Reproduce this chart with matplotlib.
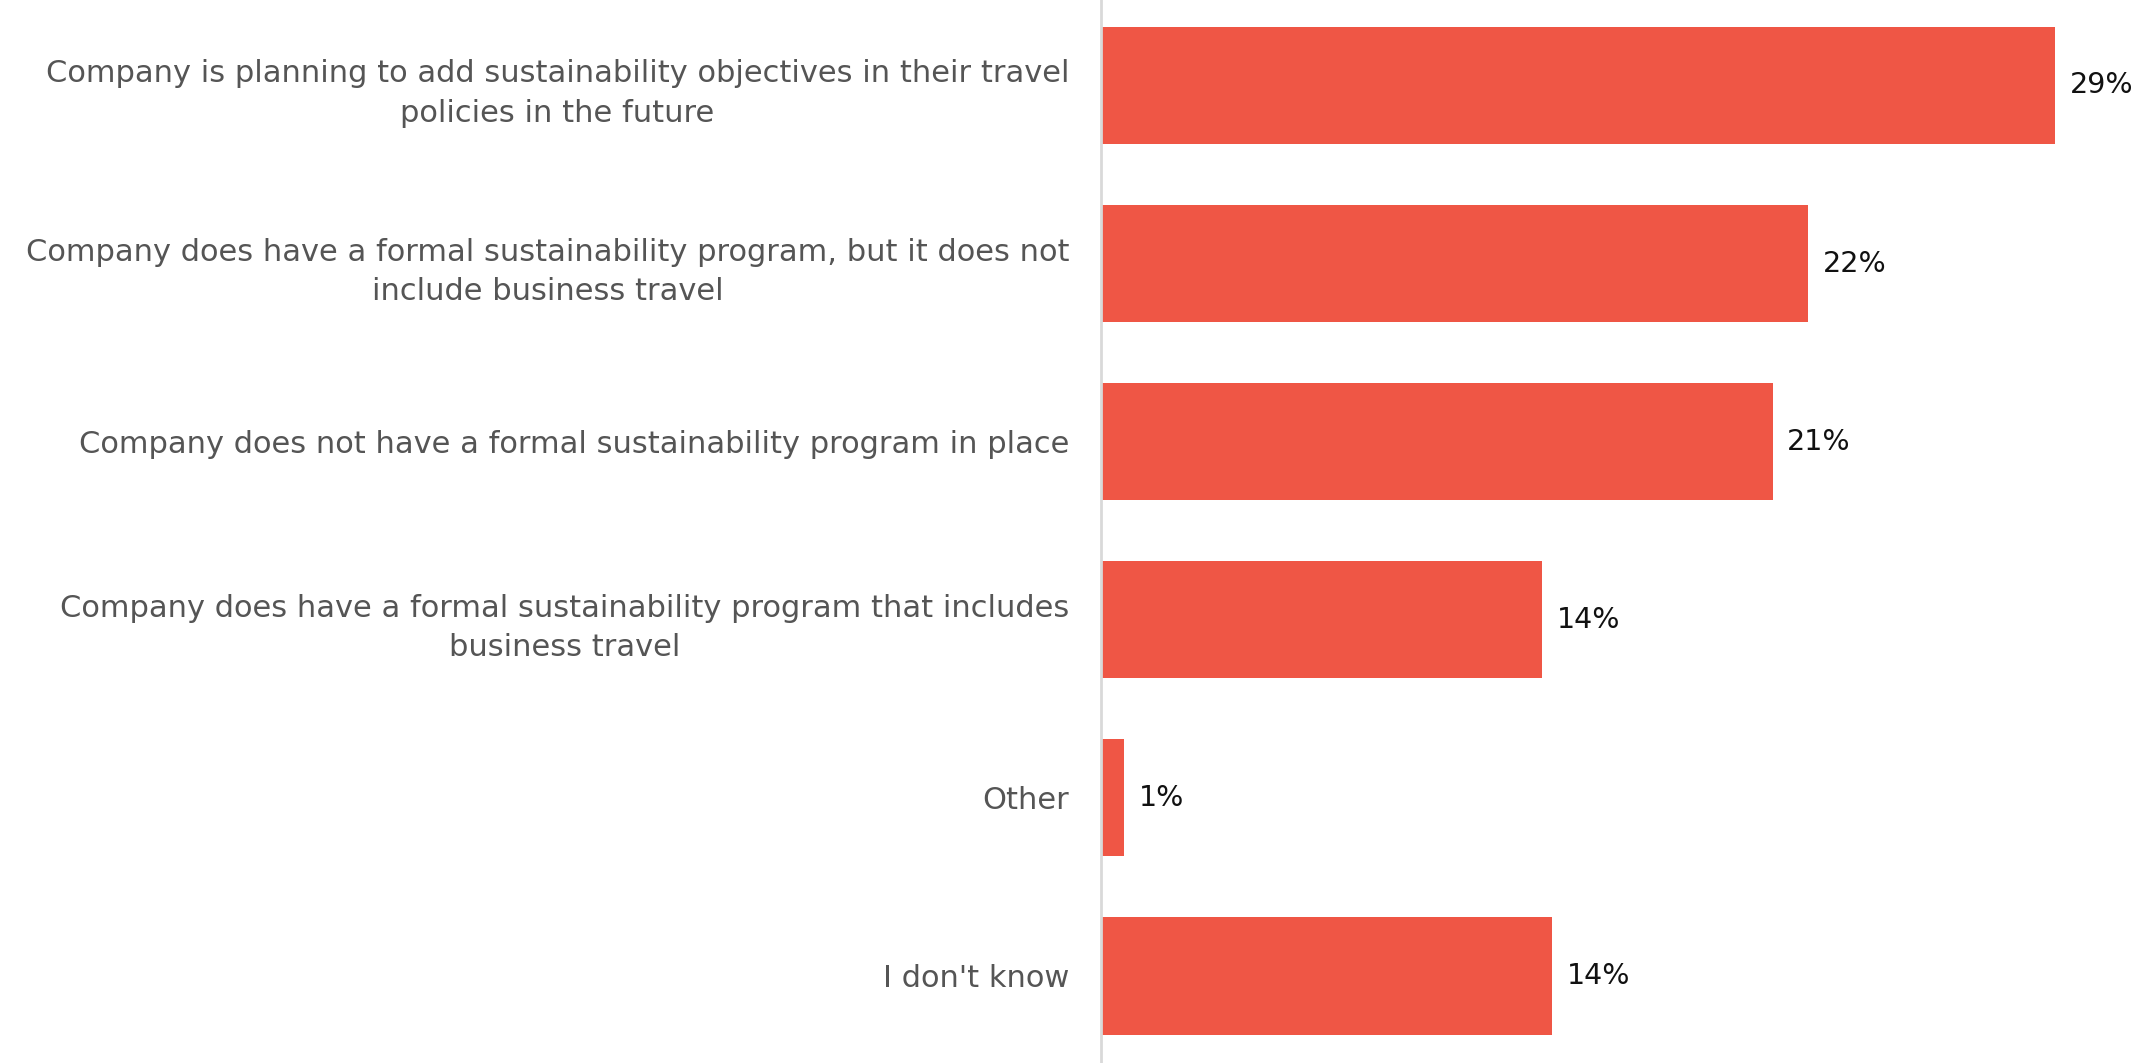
import matplotlib.pyplot as plt

categories = [
    "Company is planning to add sustainability objectives in their travel\npolicies in the future",
    "Company does have a formal sustainability program, but it does not\ninclude business travel",
    "Company does not have a formal sustainability program in place",
    "Company does have a formal sustainability program that includes\nbusiness travel",
    "Other",
    "I don't know",
]
values = [29.4, 21.8, 20.7, 13.6, 0.7, 13.9]
value_labels = ["29%", "22%", "21%", "14%", "1%", "14%"]

plt.rcParams['font.family'] = ['DejaVu Sans']

fig = plt.figure(figsize=(21.41, 10.63), dpi=100)
ax = fig.add_axes([0.5143, 0, 0.4857, 1])

y = list(range(len(categories)))
ax.barh(y, values, height=0.66, color='#ef5645')

ax.set_xlim(0, 32.05)
ax.set_ylim(5.49, -0.48)

for yi, v, lab in zip(y, values, value_labels):
    ax.text(v + 0.45, yi, lab, va='center', ha='left', fontsize=20.5, color='#111111')

ax.set_yticks(y)
ax.set_yticklabels(categories, fontsize=22, color='#555555',
                   multialignment='center', linespacing=1.45)
ax.tick_params(axis='y', length=0, pad=23)
ax.set_xticks([])

for s in ['top', 'right', 'bottom']:
    ax.spines[s].set_visible(False)
ax.spines['left'].set_color('#d9d9d9')
ax.spines['left'].set_linewidth(2)

fig.savefig('out.png', dpi=100)
